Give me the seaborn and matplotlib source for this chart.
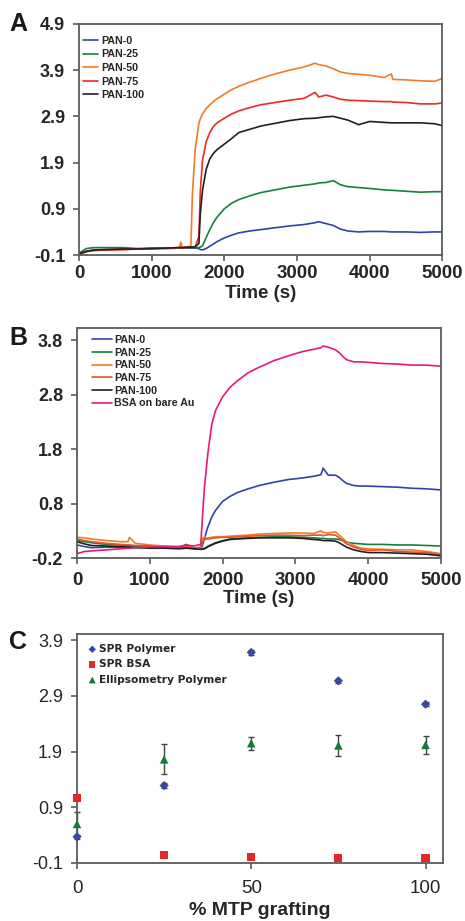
import matplotlib
matplotlib.use("Agg")
import matplotlib.pyplot as plt
import numpy as np
import pandas as pd
import seaborn as sns

# ---- panel A: polymer adsorption (SPR shift vs time)
T_A = [0, 100, 200, 400, 600, 800, 1000, 1200, 1380, 1400, 1420, 1500, 1540, 1560, 1600,
       1650, 1670, 1700, 1750, 1800, 1850, 1900, 2000, 2100, 2200, 2350, 2500, 2700, 2900,
       3100, 3250, 3300, 3400, 3500, 3600, 3700, 3850, 4000, 4200, 4300, 4320, 4500, 4700,
       4900, 5000]
A_PAN0 = [-0.08, -0.02, 0.0, 0.02, 0.02, 0.03, 0.04, 0.04, 0.05, 0.05, 0.05, 0.05, 0.05, 0.05, 0.05,
          0.04, 0.02, 0.01, 0.04, 0.09, 0.14, 0.19, 0.27, 0.33, 0.38, 0.42, 0.45, 0.49, 0.53,
          0.56, 0.60, 0.62, 0.58, 0.54, 0.46, 0.42, 0.40, 0.41, 0.41, 0.40, 0.40, 0.40, 0.39,
          0.40, 0.40]
A_PAN25 = [-0.06, 0.04, 0.06, 0.06, 0.06, 0.04, 0.05, 0.05, 0.06, 0.06, 0.06, 0.06, 0.06, 0.06, 0.06,
           0.06, 0.07, 0.10, 0.28, 0.45, 0.60, 0.72, 0.90, 1.02, 1.10, 1.18, 1.25, 1.31, 1.37,
           1.41, 1.44, 1.46, 1.47, 1.51, 1.42, 1.38, 1.36, 1.34, 1.31, 1.30, 1.30, 1.28, 1.26,
           1.27, 1.27]
A_PAN50 = [-0.08, -0.02, 0.0, 0.01, 0.02, 0.03, 0.04, 0.05, 0.05, 0.18, 0.06, 0.07, 0.10, 1.20, 2.20,
           2.75, 2.85, 2.95, 3.07, 3.15, 3.22, 3.28, 3.38, 3.48, 3.55, 3.64, 3.72, 3.82, 3.90,
           3.97, 4.05, 4.02, 3.99, 3.93, 3.86, 3.83, 3.81, 3.79, 3.74, 3.82, 3.70, 3.69, 3.67,
           3.66, 3.72]
A_PAN75 = [-0.09, -0.03, 0.0, 0.01, 0.02, 0.03, 0.04, 0.05, 0.06, 0.06, 0.06, 0.07, 0.07, 0.07, 0.08,
           0.30, 1.30, 1.95, 2.35, 2.55, 2.68, 2.76, 2.86, 2.95, 3.02, 3.09, 3.15, 3.20, 3.25,
           3.29, 3.42, 3.32, 3.36, 3.32, 3.27, 3.25, 3.24, 3.23, 3.22, 3.22, 3.21, 3.20, 3.17,
           3.17, 3.19]
A_PAN100 = [-0.07, -0.02, 0.01, 0.02, 0.03, 0.03, 0.04, 0.05, 0.06, 0.06, 0.06, 0.07, 0.07, 0.07, 0.08,
            0.15, 0.80, 1.30, 1.75, 1.98, 2.10, 2.18, 2.30, 2.42, 2.55, 2.62, 2.69, 2.75, 2.81,
            2.85, 2.86, 2.87, 2.89, 2.90, 2.86, 2.82, 2.72, 2.79, 2.77, 2.76, 2.76, 2.76, 2.76,
            2.74, 2.70]

# ---- panel B: BSA adsorption
T_B = [0, 100, 200, 400, 600, 700, 720, 800, 1000, 1200, 1400, 1500, 1600, 1700, 1720, 1750,
       1780, 1800, 1850, 1900, 2000, 2100, 2200, 2350, 2500, 2700, 2900, 3100, 3250, 3350,
       3380, 3450, 3550, 3600, 3650, 3700, 3800, 3900, 4000, 4200, 4400, 4600, 4800, 5000]
B_PAN0 = [0.04, 0.01, -0.01, 0.0, 0.0, 0.0, 0.0, 0.0, 0.0, -0.01, -0.02, 0.05, -0.03, -0.02, 0.02, 0.15,
          0.30, 0.38, 0.55, 0.67, 0.84, 0.93, 1.00, 1.07, 1.13, 1.19, 1.24, 1.27, 1.30, 1.33,
          1.45, 1.32, 1.32, 1.28, 1.22, 1.17, 1.13, 1.12, 1.12, 1.11, 1.10, 1.08, 1.07, 1.05]
B_PAN25 = [0.12, 0.10, 0.08, 0.05, 0.04, 0.03, 0.03, 0.02, 0.02, 0.01, 0.0, 0.0, -0.02, -0.03, -0.03, -0.02,
           0.0, 0.02, 0.05, 0.08, 0.12, 0.15, 0.16, 0.17, 0.18, 0.19, 0.19, 0.18, 0.17, 0.16,
           0.16, 0.15, 0.15, 0.14, 0.12, 0.09, 0.07, 0.06, 0.05, 0.05, 0.04, 0.04, 0.03, 0.02]
B_PAN50 = [0.18, 0.17, 0.15, 0.12, 0.10, 0.10, 0.18, 0.07, 0.04, 0.02, 0.01, 0.02, -0.01, -0.02, 0.15, 0.19,
           0.16, 0.17, 0.18, 0.19, 0.19, 0.20, 0.21, 0.22, 0.24, 0.25, 0.26, 0.26, 0.25, 0.30,
           0.27, 0.26, 0.28, 0.22, 0.16, 0.10, 0.03, -0.02, -0.03, -0.04, -0.05, -0.05, -0.08, -0.12]
B_PAN75 = [0.15, 0.12, 0.10, 0.07, 0.05, 0.04, 0.04, 0.03, 0.02, 0.0, -0.01, 0.03, -0.02, 0.0, 0.08, 0.14,
           0.15, 0.15, 0.16, 0.17, 0.18, 0.18, 0.19, 0.20, 0.21, 0.22, 0.22, 0.21, 0.22, 0.22,
           0.21, 0.23, 0.22, 0.17, 0.12, 0.06, 0.0, -0.04, -0.06, -0.05, -0.08, -0.09, -0.10, -0.14]
B_PAN100 = [0.10, 0.06, 0.03, 0.02, 0.01, 0.0, 0.0, -0.01, -0.02, -0.02, -0.03, -0.02, -0.03, -0.04, -0.04, -0.03,
            -0.01, 0.01, 0.04, 0.07, 0.11, 0.14, 0.15, 0.16, 0.17, 0.17, 0.17, 0.16, 0.14, 0.13,
            0.12, 0.12, 0.11, 0.08, 0.04, 0.0, -0.05, -0.08, -0.10, -0.10, -0.11, -0.12, -0.13, -0.16]
B_BSA_AU = [-0.12, -0.08, -0.07, -0.05, -0.03, -0.02, -0.02, -0.01, 0.0, 0.01, 0.01, 0.04, 0.02, 0.05, 0.50, 1.10,
            1.50, 1.75, 2.25, 2.50, 2.76, 2.93, 3.05, 3.20, 3.30, 3.42, 3.51, 3.59, 3.63, 3.66,
            3.69, 3.67, 3.62, 3.57, 3.50, 3.44, 3.40, 3.40, 3.39, 3.37, 3.36, 3.34, 3.34, 3.32]

# ---- panel C: summary vs grafting
PCT = [0, 25, 50, 75, 100]
SPR_POLY = [0.37, 1.29, 3.68, 3.17, 2.75]
SPR_POLY_ERR = [0.04, 0.04, 0.04, 0.04, 0.04]
SPR_BSA = [1.07, 0.04, 0.0, -0.01, -0.01]
ELL_POLY = [0.60, 1.76, 2.05, 2.01, 2.02]
ELL_POLY_ERR = [0.22, 0.27, 0.12, 0.19, 0.16]

NAMES = ["PAN-0", "PAN-25", "PAN-50", "PAN-75", "PAN-100"]
COL_A = ["#2f45a6", "#14813f", "#f47a24", "#ec2a26", "#231f20"]
COL_B = ["#2f45a6", "#14813f", "#f47a24", "#e0562c", "#231f20"]
PINK = "#e8187a"

sns.set_theme(style="ticks")
plt.rcParams["font.family"] = ["Liberation Sans", "DejaVu Sans"]
plt.rcParams["axes.edgecolor"] = "#5c5c5c"
plt.rcParams["axes.linewidth"] = 1.3
plt.rcParams["xtick.color"] = "#5c5c5c"
plt.rcParams["ytick.color"] = "#5c5c5c"

fig = plt.figure(figsize=(4.65, 9.21), dpi=100)
axA = fig.add_axes([0.170, 0.7231, 0.781, 0.2509])
axB = fig.add_axes([0.1656, 0.3941, 0.783, 0.2497])
axC = fig.add_axes([0.1656, 0.0630, 0.787, 0.2486])

def style_axis(ax, xfs, yfs, weight, xpad, ypad):
    for s in ax.spines.values():
        s.set_visible(True)
        s.set_color("#5c5c5c")
    ax.tick_params(axis="both", direction="out", length=4, width=1.2)
    ax.tick_params(axis="x", pad=xpad)
    ax.tick_params(axis="y", pad=ypad)
    for lab in ax.get_xticklabels():
        lab.set_fontsize(xfs)
        lab.set_fontweight(weight)
        lab.set_color("#262626")
    for lab in ax.get_yticklabels():
        lab.set_fontsize(yfs)
        lab.set_fontweight(weight)
        lab.set_color("#262626")

# A
dfA = pd.DataFrame({"t": T_A})
for name, vals, c in zip(NAMES, [A_PAN0, A_PAN25, A_PAN50, A_PAN75, A_PAN100], COL_A):
    sns.lineplot(x=T_A, y=vals, color=c, lw=1.2, label=name, ax=axA)
axA.set_xlim(0, 5000)
axA.set_ylim(-0.1, 4.9)
axA.set_xticks([0, 1000, 2000, 3000, 4000, 5000])
axA.set_yticks([-0.1, 0.9, 1.9, 2.9, 3.9, 4.9])
axA.set_yticklabels(["-0.1", "0.9", "1.9", "2.9", "3.9", "4.9"])
style_axis(axA, 13.5, 13, "bold", 3.5, 6)
axA.set_xlabel("Time (s)", fontsize=13.5, fontweight="bold", color="#262626", labelpad=2)
axA.set_ylabel("")
axA.legend(loc="upper left", bbox_to_anchor=(0.011, 0.948), borderaxespad=0, borderpad=0,
           frameon=False, handlelength=1.4, handletextpad=0.3, labelspacing=0.33,
           prop={"family": "Liberation Sans", "weight": "bold", "size": 7.7})

# B
for name, vals, c in zip(NAMES, [B_PAN0, B_PAN25, B_PAN50, B_PAN75, B_PAN100], COL_B):
    sns.lineplot(x=T_B, y=vals, color=c, lw=1.2, label=name, ax=axB)
sns.lineplot(x=T_B, y=B_BSA_AU, color=PINK, lw=1.2, label="BSA on bare Au", ax=axB)
axB.set_xlim(0, 5000)
axB.set_ylim(-0.2, 4.02)
axB.set_xticks([0, 1000, 2000, 3000, 4000, 5000])
axB.set_yticks([-0.2, 0.8, 1.8, 2.8, 3.8])
axB.set_yticklabels(["-0.2", "0.8", "1.8", "2.8", "3.8"])
style_axis(axB, 13.5, 13, "bold", 6, 6)
axB.set_xlabel("Time (s)", fontsize=13.5, fontweight="bold", color="#262626", labelpad=1)
axB.set_ylabel("")
axB.legend(loc="upper left", bbox_to_anchor=(0.041, 0.97), borderaxespad=0, borderpad=0,
           frameon=False, handlelength=1.87, handletextpad=0.2, labelspacing=0.25,
           prop={"family": "Liberation Sans", "weight": "bold", "size": 7.7})

# C
axC.errorbar(PCT, SPR_POLY, yerr=SPR_POLY_ERR, fmt="none", ecolor="#444444", elinewidth=1,
             capsize=2, clip_on=False, zorder=2)
axC.errorbar(PCT, ELL_POLY, yerr=ELL_POLY_ERR, fmt="none", ecolor="#444444", elinewidth=1,
             capsize=2.5, clip_on=False, zorder=2)
sns.scatterplot(x=PCT, y=SPR_POLY, marker="D", s=22, color="#3548a3", edgecolor="none",
                label="SPR Polymer", ax=axC, zorder=3, clip_on=False)
sns.scatterplot(x=PCT, y=SPR_BSA, marker="s", s=34, color="#e8262a", edgecolor="none",
                label="SPR BSA", ax=axC, zorder=3, clip_on=False)
sns.scatterplot(x=PCT, y=ELL_POLY, marker="^", s=38, color="#18783b", edgecolor="none",
                label="Ellipsometry Polymer", ax=axC, zorder=4, clip_on=False)
axC.set_xlim(0, 105)
axC.set_ylim(-0.1, 4.01)
axC.set_xticks([0, 50, 100])
axC.set_yticks([-0.1, 0.9, 1.9, 2.9, 3.9])
axC.set_yticklabels(["-0.1", "0.9", "1.9", "2.9", "3.9"])
style_axis(axC, 13.5, 13, "normal", 8, 6)
axC.set_xlabel("% MTP grafting", fontsize=14, fontweight="bold", color="#262626", labelpad=4)
axC.set_ylabel("")
axC.legend(loc="upper left", bbox_to_anchor=(0.030, 0.956), borderaxespad=0, borderpad=0,
           frameon=False, handlelength=0.8, handletextpad=0.25, labelspacing=0.5,
           markerscale=0.8, prop={"family": "DejaVu Sans", "weight": "bold", "size": 7.7})

for letter, y in [("A", 0.974), ("B", 0.633), ("C", 0.303)]:
    fig.text(0.039, y, letter, fontsize=18, fontweight="bold", ha="center", va="center",
             color="#1a1a1a")

fig.savefig("out.png", dpi=100)
